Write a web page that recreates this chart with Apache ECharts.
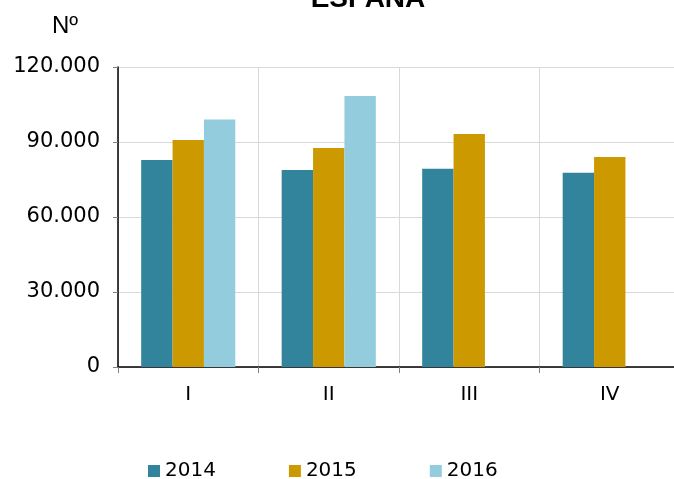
<!DOCTYPE html>
<html>
<head>
<meta charset="utf-8">
<script src="https://cdn.jsdelivr.net/npm/echarts@6/dist/echarts.min.js"></script>
<style>html,body{margin:0;padding:0;background:#fff}#c{width:674px;height:479px}</style>
</head>
<body>
<div id="c"></div>
<script>
const categories = ['I', 'II', 'III', 'IV'];
const years = ['2014', '2015', '2016'];
const values2014 = [82800, 78800, 79300, 77700];
const values2015 = [90800, 87600, 93200, 84000];
const values2016 = [99000, 108400, null, null];
const colors = ['#31849b', '#cc9a00', '#93cddd'];
const yMax = 120000;
const yInterval = 30000;

function fmt(v) {
  return String(v).replace(/\B(?=(\d{3})+(?!\d))/g, '.');
}

const chart = echarts.init(document.getElementById('c'));
const seriesData = [values2014, values2015, values2016];
chart.setOption({
  animation: false,
  color: colors,
  title: {
    text: 'ESPAÑA',
    left: 363,
    top: -20,
    textAlign: 'center',
    textStyle: { fontFamily: 'Liberation Sans', fontWeight: 'bold', fontSize: 28, color: '#000' }
  },
  graphic: [{
    type: 'text',
    left: 52,
    top: 14,
    style: { text: 'Nº', font: '24px "Liberation Sans"', fill: '#000' }
  }],
  legend: {
    bottom: -7,
    left: 143,
    itemWidth: 12,
    itemHeight: 12,
    itemGap: 73,
    icon: 'rect',
    textStyle: { fontFamily: 'DejaVu Sans', fontSize: 20, color: '#000' },
    data: years
  },
  grid: { left: 118, width: 562, top: 67, bottom: 112, containLabel: false, outerBoundsMode: 'none' },
  xAxis: {
    type: 'category',
    data: categories,
    axisLine: { lineStyle: { color: '#000', width: 1.5 } },
    axisTick: { show: true, length: 6, lineStyle: { color: '#808080' } },
    axisLabel: { fontFamily: 'DejaVu Sans', fontSize: 20, color: '#000', margin: 18 },
    splitLine: { show: true, lineStyle: { color: '#d9d9d9' } }
  },
  yAxis: {
    type: 'value',
    min: 0,
    max: yMax,
    interval: yInterval,
    axisLine: { show: true, lineStyle: { color: '#000', width: 1.5 } },
    axisTick: { show: true, length: 5, lineStyle: { color: '#808080' } },
    axisLabel: { fontFamily: 'DejaVu Sans', fontSize: 21, color: '#000', margin: 18, formatter: fmt },
    splitLine: { show: true, lineStyle: { color: '#d9d9d9' } }
  },
  series: years.map((y, i) => ({
    name: y,
    type: 'bar',
    data: seriesData[i],
    barGap: '0%',
    barCategoryGap: '33%',
    itemStyle: { color: colors[i] }
  }))
});
</script>
</body>
</html>
